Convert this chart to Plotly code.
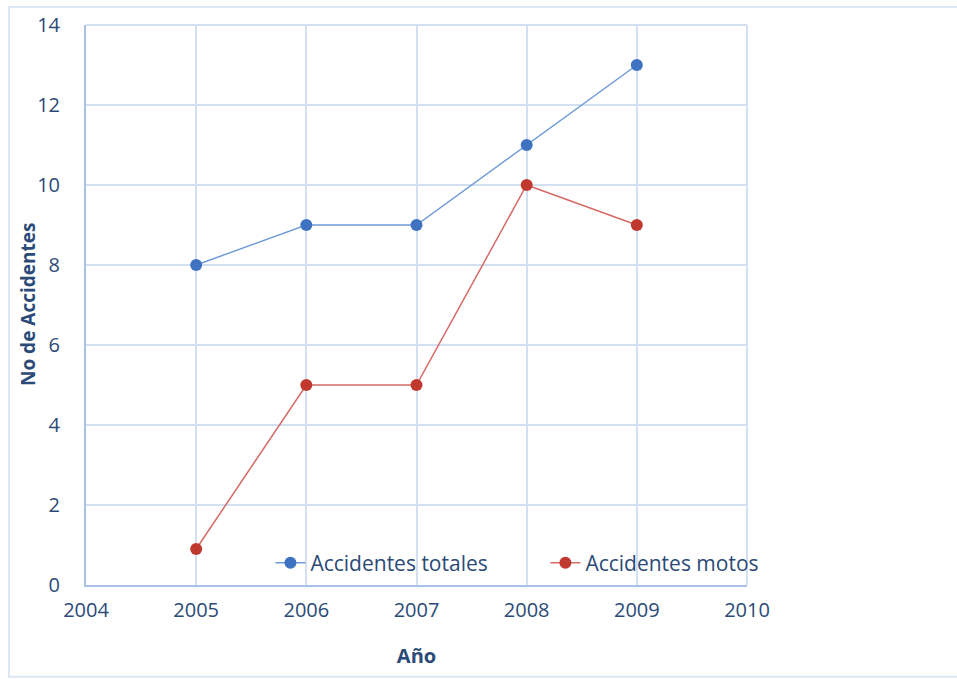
import plotly.graph_objects as go

# Yearly accident counts
years = [2005, 2006, 2007, 2008, 2009]
accidentes_totales = [8, 9, 9, 11, 13]
accidentes_motos = [0.9, 5, 5, 10, 9]

x_ticks = [2004, 2005, 2006, 2007, 2008, 2009, 2010]
y_ticks = [0, 2, 4, 6, 8, 10, 12, 14]

text_color = "#2b4a78"
grid_color = "#d3e0f2"
axis_color = "#a7c2e6"
font_family = "'Open Sans', Lato, sans-serif"

fig = go.Figure()

fig.add_trace(go.Scatter(
    x=years, y=accidentes_totales, name="Accidentes totales",
    mode="lines+markers", legend="legend",
    line=dict(color="#6f9bd6", width=1.5),
    marker=dict(color="#3f72c0", size=12),
))
fig.add_trace(go.Scatter(
    x=years, y=accidentes_motos, name="Accidentes motos",
    mode="lines+markers", legend="legend2",
    line=dict(color="#d66a67", width=1.5),
    marker=dict(color="#c0392f", size=12),
))

legend_style = dict(
    orientation="h", y=0.039, xanchor="left", yanchor="middle",
    bgcolor="rgba(0,0,0,0)", font=dict(size=21, color=text_color),
)

fig.update_layout(
    width=957, height=679,
    margin=dict(l=86, r=210, t=25, b=94),
    paper_bgcolor="white", plot_bgcolor="white",
    font=dict(family=font_family, size=20, color=text_color),
    showlegend=True,
    legend=dict(x=0.279, **legend_style),
    legend2=dict(x=0.695, **legend_style),
    xaxis=dict(
        range=[2004, 2010], tickmode="array", tickvals=x_ticks,
        ticktext=[str(v) for v in x_ticks],
        showgrid=True, gridcolor=grid_color, gridwidth=1.5,
        showline=True, linecolor=axis_color, linewidth=2,
        mirror=False, zeroline=False, ticks="", ticklabelstandoff=6,
        tickfont=dict(size=20),
        title=dict(text="<b>Año</b>", font=dict(size=20, color=text_color), standoff=27),
    ),
    yaxis=dict(
        range=[0, 14], tickmode="array", tickvals=y_ticks,
        showgrid=True, gridcolor=grid_color, gridwidth=1.5,
        showline=True, linecolor=axis_color, linewidth=2,
        zeroline=False, ticks="", ticklabelstandoff=20,
        tickfont=dict(size=20),
    ),
)

# Vertical axis title
fig.add_annotation(
    text="<b>No de Accidentes</b>", xref="paper", yref="paper",
    x=-0.0877, y=0.5, xanchor="center", yanchor="middle",
    textangle=-90, showarrow=False,
    font=dict(size=19, color=text_color),
)

# Top and right frame of the plot area
fig.add_shape(type="line", xref="paper", yref="paper", x0=0, x1=1, y0=1, y1=1,
              line=dict(color=grid_color, width=2), layer="below")
fig.add_shape(type="line", xref="paper", yref="paper", x0=1, x1=1, y0=0, y1=1,
              line=dict(color=grid_color, width=2), layer="below")

# Outer chart border
fig.add_shape(type="rect", xref="paper", yref="paper",
              x0=-0.1165, x1=1.33, y0=-0.164, y1=1.032,
              line=dict(color="#dce6f5", width=2), fillcolor="rgba(0,0,0,0)", layer="below")

fig.write_html("out.html")
